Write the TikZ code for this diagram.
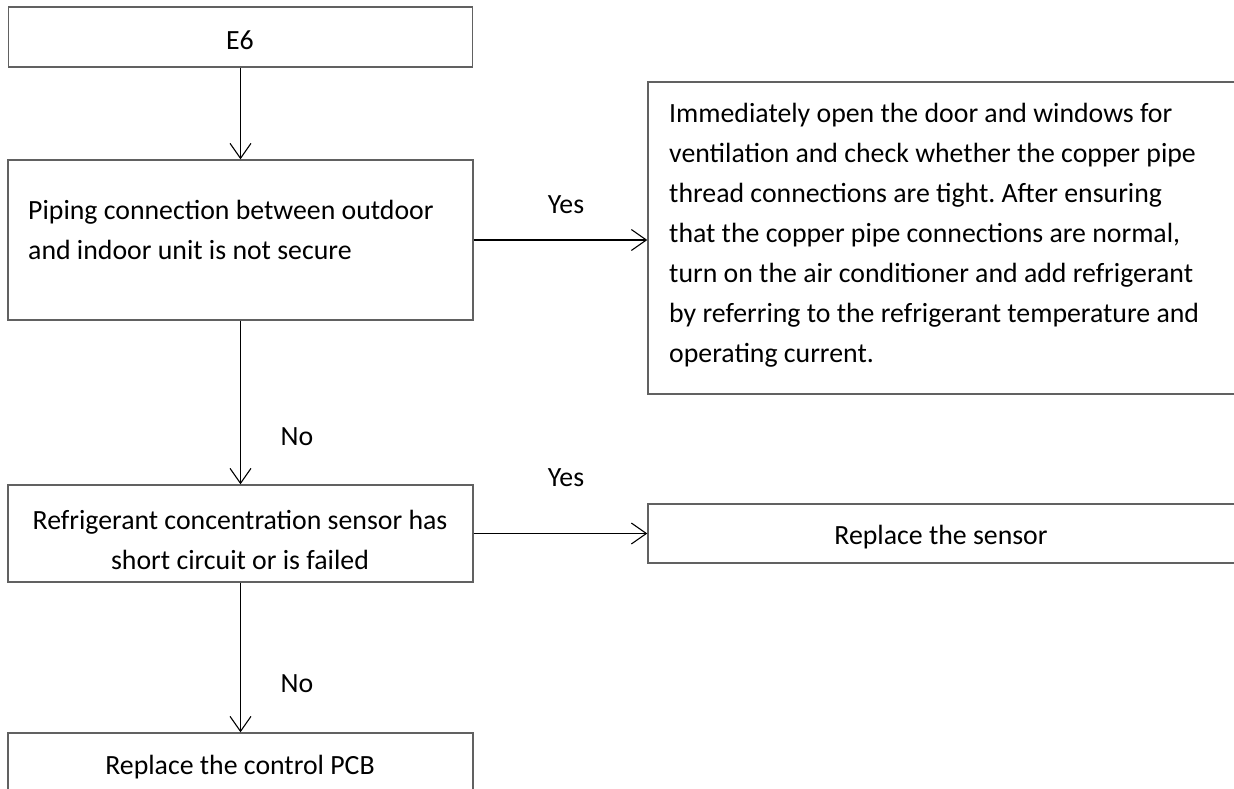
\documentclass[tikz,border=0pt]{standalone}
\usepackage{fontspec}
\setmainfont{Carlito}
\usetikzlibrary{arrows.meta}
\frenchspacing
\begin{document}
\begin{tikzpicture}[x=1pt,y=-1pt,
  box/.style={draw=black!62,line width=1.4pt,rectangle,inner sep=0pt},
  txt/.style={inner sep=0pt,font=\fontsize{27.8}{40}\selectfont},
  flow/.style={draw=black,line width=1.3pt,-{Straight Barb[length=15pt,width=21pt,line width=1.1pt]}},
  lbl/.style={inner sep=0pt,font=\fontsize{27.8}{32}\selectfont}]
\useasboundingbox (0,0) rectangle (1234,789);
\clip (0,0) rectangle (1234,789);
\fill[white] (0,0) rectangle (1234,789);

% left column of decision boxes
\node[box,minimum width=464pt,minimum height=60pt] (e6) at (240.5,37) {};
\node[txt] (e6t) at (240,40) {E6};

\node[box,minimum width=465pt,minimum height=160pt] (pipe) at (240.5,240) {};
\node[txt,anchor=west,align=left] (pipet) at (28,230)
  {Piping connection between outdoor\\and indoor unit is not secure};

\node[box,minimum width=465pt,minimum height=97pt] (sens) at (240.5,533.5) {};
\node[txt,align=center] (senst) at (240,540)
  {Refrigerant concentration sensor has\\short circuit or is failed};

\node[box,minimum width=465pt,minimum height=100pt] (pcb) at (240.5,783) {};
\node[txt] (pcbt) at (240,767) {Replace the control PCB};

% right column of action boxes (running past the right edge)
\node[box,minimum width=620pt,minimum height=312pt] (act) at (958,238) {};
\node[txt,anchor=west,align=left] (actt) at (669,235)
  {Immediately open the door and windows for\\
   ventilation and check whether the copper pipe\\
   thread connections are tight. After ensuring\\
   that the copper pipe connections are normal,\\
   turn on the air conditioner and add refrigerant\\
   by referring to the refrigerant temperature and\\
   operating current.};

\node[box,minimum width=620pt,minimum height=59pt] (repl) at (958,533.5) {};
\node[txt] (replt) at (941,537) {Replace the sensor};

% connectors
\draw[flow] (e6.south) -- (pipe.north);
\draw[flow] (pipe.east) -- (act.west |- pipe.east);
\draw[flow] (pipe.south) -- (sens.north);
\draw[flow] (sens.east) -- (repl.west |- sens.east);
\draw[flow] (sens.south) -- (pcb.north);

% branch labels
\node[lbl] (y1) at (566,205) {Yes};
\node[lbl] (n1) at (297,437) {No};
\node[lbl] (y2) at (566,478) {Yes};
\node[lbl] (n2) at (297,684) {No};
\end{tikzpicture}
\end{document}
